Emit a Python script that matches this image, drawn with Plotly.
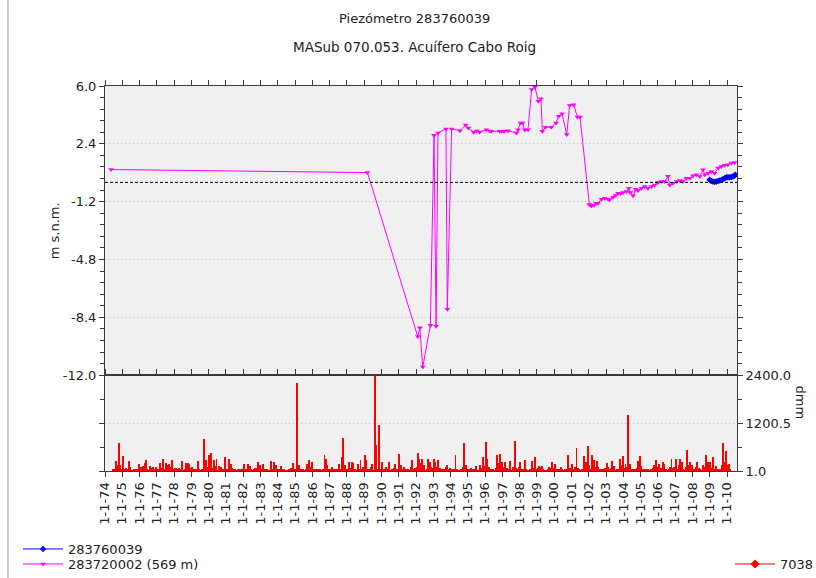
import datetime as dt
import plotly.graph_objects as go

# ---------------- data ----------------
title_text = "Piezómetro 283760039"
subtitle_text = "MASub 070.053. Acuífero Cabo Roig"

tick_years = list(range(1974, 2011))
tick_labels = ["1-1-%02d" % (y % 100) for y in tick_years]

# piezometer 283720002 (569 m): decimal year, level (m s.n.m.)
p2_year = [1974.35, 1989.19, 1992.10, 1992.22, 1992.39, 1992.83, 1993.04, 1993.16, 1993.27,
           1993.73, 1993.81, 1994.06, 1994.54, 1994.87, 1995.03, 1995.34, 1995.51, 1995.68,
           1996.07, 1996.26, 1996.36, 1996.84, 1996.96, 1997.10, 1997.32, 1997.81, 1997.90,
           1998.04, 1998.16, 1998.29, 1998.48, 1998.69, 1998.88, 1999.08, 1999.23, 1999.31,
           1999.49, 1999.83, 2000.10, 2000.26, 2000.45, 2000.72, 2000.89, 2001.12, 2001.34,
           2001.49, 2002.03, 2002.15, 2002.30, 2002.42, 2002.53, 2002.73, 2002.92, 2003.11,
           2003.20, 2003.40, 2003.55, 2003.69, 2003.85, 2003.98, 2004.17, 2004.32, 2004.40,
           2004.56, 2004.71, 2004.85, 2005.04, 2005.23, 2005.42, 2005.62, 2005.81, 2006.00,
           2006.20, 2006.39, 2006.58, 2006.68, 2006.87, 2007.07, 2007.26, 2007.45, 2007.65,
           2007.84, 2008.03, 2008.22, 2008.42, 2008.61, 2008.71, 2008.90, 2009.09, 2009.28,
           2009.48, 2009.67, 2009.86, 2010.05, 2010.25, 2010.44]
p2_level = [0.80, 0.61, -9.60, -9.05, -11.50, -8.90, 2.93, -8.95, 3.08,
            3.33, -7.90, 3.33, 3.22, 3.57, 3.39, 3.12, 3.20, 3.14,
            3.28, 3.20, 3.18, 3.18, 3.18, 3.18, 3.22, 3.08, 3.28,
            3.70, 3.70, 3.28, 3.28, 5.78, 5.93, 5.05, 5.20, 3.18,
            3.43, 3.43, 3.70, 4.12, 4.27, 2.98, 4.78, 4.84, 4.07,
            4.07, -1.38, -1.47, -1.42, -1.30, -1.30, -1.05, -0.99, -1.05,
            -1.10, -0.92, -0.80, -0.67, -0.70, -0.63, -0.57, -0.36, -0.63,
            -0.84, -0.43, -0.51, -0.36, -0.26, -0.36, -0.26, -0.16, -0.01,
            0.05, 0.05, 0.38, -0.16, -0.05, 0.05, 0.11, 0.05, 0.26,
            0.26, 0.41, 0.47, 0.36, 0.78, 0.47, 0.57, 0.68, 0.57,
            0.89, 0.99, 1.06, 1.10, 1.20, 1.24]

# piezometer 283760039
p1_year = [2008.99, 2009.08, 2009.18, 2009.28, 2009.38, 2009.48, 2009.57, 2009.67, 2009.76,
           2009.86, 2009.96, 2010.05, 2010.15, 2010.25, 2010.34, 2010.42, 2010.48]
p1_level = [0.16, 0.08, 0.05, 0.03, 0.05, 0.08, 0.11, 0.15, 0.20,
            0.26, 0.32, 0.32, 0.32, 0.34, 0.36, 0.42, 0.47]

zero_level = 0.0

# monthly precipitation, station 7038 (dmm), Jan..Dec per year
rain_years = list(range(1974, 2011))
rain_dmm = [
    [0, 0, 0, 0, 0, 40, 60, 240, 150, 700, 140, 50],
    [375, 60, 80, 40, 250, 100, 20, 10, 50, 60, 60, 180],
    [100, 90, 120, 210, 265, 30, 10, 116, 80, 100, 40, 100],
    [50, 60, 210, 80, 290, 30, 210, 140, 180, 100, 280, 60],
    [70, 80, 60, 70, 40, 240, 10, 30, 200, 210, 180, 80],
    [100, 60, 40, 30, 250, 40, 20, 40, 790, 265, 265, 100],
    [400, 455, 80, 265, 120, 300, 20, 116, 110, 60, 50, 340],
    [60, 40, 300, 180, 80, 40, 40, 20, 40, 50, 30, 40],
    [175, 60, 50, 165, 116, 40, 10, 30, 80, 80, 224, 140],
    [40, 165, 30, 50, 60, 20, 10, 250, 60, 224, 140, 40],
    [30, 50, 116, 40, 50, 20, 10, 30, 60, 70, 200, 40],
    [60, 2200, 140, 40, 60, 50, 10, 30, 183, 266, 100, 224],
    [60, 60, 50, 40, 30, 60, 10, 30, 400, 307, 141, 60],
    [60, 100, 40, 58, 60, 30, 183, 40, 350, 820, 141, 60],
    [50, 224, 80, 224, 200, 40, 10, 183, 60, 266, 60, 100],
    [400, 266, 60, 60, 100, 183, 10, 2400, 650, 60, 1140, 60],
    [224, 60, 40, 100, 60, 224, 10, 30, 80, 183, 60, 50],
    [430, 141, 60, 100, 50, 30, 58, 20, 100, 266, 60, 80],
    [100, 450, 290, 200, 290, 150, 20, 40, 307, 224, 100, 80],
    [290, 224, 100, 266, 80, 58, 30, 58, 100, 141, 60, 80],
    [58, 40, 60, 400, 40, 20, 10, 30, 100, 700, 141, 60],
    [58, 40, 80, 30, 50, 116, 10, 20, 150, 80, 350, 120],
    [720, 307, 100, 40, 60, 30, 10, 80, 390, 200, 430, 224],
    [100, 224, 40, 80, 60, 240, 10, 100, 750, 80, 58, 100],
    [224, 60, 50, 266, 40, 20, 10, 40, 240, 80, 350, 60],
    [80, 116, 100, 116, 40, 20, 10, 58, 100, 80, 224, 80],
    [183, 40, 60, 60, 100, 30, 10, 30, 58, 410, 80, 80],
    [183, 60, 100, 570, 80, 30, 10, 40, 365, 224, 224, 620],
    [141, 60, 410, 266, 100, 240, 100, 30, 60, 58, 40, 80],
    [200, 100, 50, 80, 240, 116, 10, 30, 58, 290, 150, 365],
    [80, 183, 100, 1390, 183, 40, 58, 40, 58, 80, 250, 365],
    [116, 60, 40, 58, 40, 58, 10, 40, 80, 150, 266, 100],
    [183, 60, 80, 224, 183, 40, 10, 58, 100, 290, 80, 100],
    [290, 60, 150, 307, 224, 40, 10, 100, 520, 150, 224, 141],
    [60, 50, 100, 224, 80, 30, 10, 141, 100, 390, 224, 224],
    [224, 80, 350, 60, 116, 30, 58, 40, 150, 700, 224, 490],
    [150, 183, 40],
]

rain_ticks = [1.0, 1200.5, 2400.0]
level_ticks = [-12.0, -8.4, -4.8, -1.2, 2.4, 6.0]


# ---------------- helpers ----------------
def dec_to_date(y):
    yr = int(y)
    a = dt.datetime(yr, 1, 1)
    b = dt.datetime(yr + 1, 1, 1)
    return a + (b - a) * (y - yr)


p2_x = [dec_to_date(v) for v in p2_year]
p1_x = [dec_to_date(v) for v in p1_year]
rain_x, rain_y = [], []
for yr, row in zip(rain_years, rain_dmm):
    for m, v in enumerate(row):
        rain_x.append(dt.datetime(yr, m + 1, 15))
        rain_y.append(v)

FONT = "DejaVu Sans"
TXT = "#222222"
AXC = "#3a3a3a"
GRID = "#bdbdbd"
x_range = [dt.datetime(1974, 1, 1), dt.datetime(2010, 7, 30)]
tickvals_x = [dt.datetime(y, 1, 1) for y in tick_years]

fig = go.Figure()

fig.add_trace(go.Scatter(
    x=p1_x, y=p1_level, mode="lines+markers", name="283760039",
    line=dict(color="#0000ff", width=1),
    marker=dict(symbol="diamond", size=5, color="#0000ff"),
    xaxis="x", yaxis="y", legend="legend"))
fig.add_trace(go.Scatter(
    x=p2_x, y=p2_level, mode="lines+markers", name="283720002 (569 m)",
    line=dict(color="#ff00ff", width=1),
    marker=dict(symbol="triangle-down", size=5, color="#ff00ff"),
    xaxis="x", yaxis="y", legend="legend3"))
fig.add_trace(go.Bar(
    x=rain_x, y=rain_y, name="7038", showlegend=False,
    marker=dict(color="#ff0000", line=dict(width=0)),
    width=20 * 86400000, xaxis="x2", yaxis="y2"))
fig.add_trace(go.Scatter(
    x=[None], y=[None], mode="lines+markers", name="7038",
    line=dict(color="#ff0000", width=1),
    marker=dict(symbol="diamond", size=7, color="#ff0000"),
    xaxis="x2", yaxis="y2", legend="legend2"))

fig.add_shape(type="line", xref="x domain", yref="y", x0=0, x1=1, y0=zero_level, y1=zero_level,
              line=dict(color="black", width=1, dash="3px,2px"))
fig.add_shape(type="line", xref="paper", yref="paper", x0=-0.1535, x1=-0.1535, y0=-0.3, y1=1.25,
              line=dict(color="#999999", width=1))

tickfont = dict(family=FONT, size=13, color=TXT)
legfont = dict(family=FONT, size=13, color=TXT)


def leg(x, y):
    return dict(x=x, y=y, xref="container", yref="container", xanchor="left", yanchor="middle",
                bgcolor="rgba(0,0,0,0)", font=legfont, itemwidth=40, borderwidth=0)


fig.update_layout(
    width=816, height=578,
    margin=dict(l=105, r=79, t=86, b=107, autoexpand=False),
    paper_bgcolor="white", plot_bgcolor="#f0f0f0",
    font=dict(family=FONT, size=13, color=TXT),
    bargap=0,
    xaxis=dict(domain=[0, 1], anchor="y", range=x_range, side="top", automargin=False,
               tickvals=tickvals_x, showticklabels=False, ticks="outside", ticklen=5,
               tickcolor=AXC, showline=True, linecolor=AXC, mirror=True, showgrid=False,
               zeroline=False),
    yaxis=dict(domain=[0.249, 1], anchor="x", range=[-12, 6], automargin=False,
               tickvals=level_ticks, ticktext=["%.1f" % v for v in level_ticks],
               ticks="outside", ticklen=5, tickcolor=AXC, tickfont=tickfont,
               showline=True, linecolor=AXC, mirror="ticks",
               showgrid=True, gridcolor=GRID, griddash="1px,3px", gridwidth=1, zeroline=False,
               minor=dict(dtick=0.72, tick0=-12, ticks="outside", ticklen=4, tickcolor=AXC,
                          showgrid=False)),
    xaxis2=dict(domain=[0, 1], anchor="y2", range=x_range, matches="x", automargin=False,
                tickvals=tickvals_x, ticktext=tick_labels, tickangle=-90,
                ticks="outside", ticklen=5, tickcolor=AXC, tickfont=tickfont,
                showline=True, linecolor=AXC, mirror="ticks", showgrid=False, zeroline=False),
    yaxis2=dict(domain=[0, 0.249], anchor="x2", range=[1, 2400], side="right", automargin=False,
                tickvals=rain_ticks, ticktext=["%.1f" % v for v in rain_ticks],
                ticks="outside", ticklen=5, tickcolor=AXC, tickfont=tickfont,
                showline=True, linecolor=AXC, mirror="ticks",
                showgrid=True, gridcolor=GRID, griddash="1px,3px", zeroline=False,
                minor=dict(tickvals=[600.75, 1800.25], ticks="outside", ticklen=4,
                           tickcolor=AXC, showgrid=False)),
    legend=leg(18 / 816, 1 - 549 / 578),
    legend3=leg(18 / 816, 1 - 564 / 578),
    legend2=leg(730 / 816, 1 - 564 / 578),
    showlegend=True,
)

fig.add_annotation(text=title_text, xref="paper", yref="paper", x=0.49, y=1.0, yanchor="middle",
                   yshift=68, showarrow=False, font=dict(family=FONT, size=13, color=TXT))
fig.add_annotation(text=subtitle_text, xref="paper", yref="paper", x=0.49, y=1.0, yanchor="middle",
                   yshift=39, showarrow=False, font=dict(family=FONT, size=13.5, color=TXT))
fig.add_annotation(text="m s.n.m.", xref="paper", yref="paper", x=-0.095, y=0.624,
                   textangle=-90, showarrow=False, font=dict(family=FONT, size=13, color=TXT))
fig.add_annotation(text="dmm", xref="paper", yref="paper", x=1.1155, y=0.127,
                   textangle=90, showarrow=False, font=dict(family=FONT, size=13, color=TXT))

fig.write_html("out.html", config={"displayModeBar": False},
               post_script="document.body.style.margin='0';")
